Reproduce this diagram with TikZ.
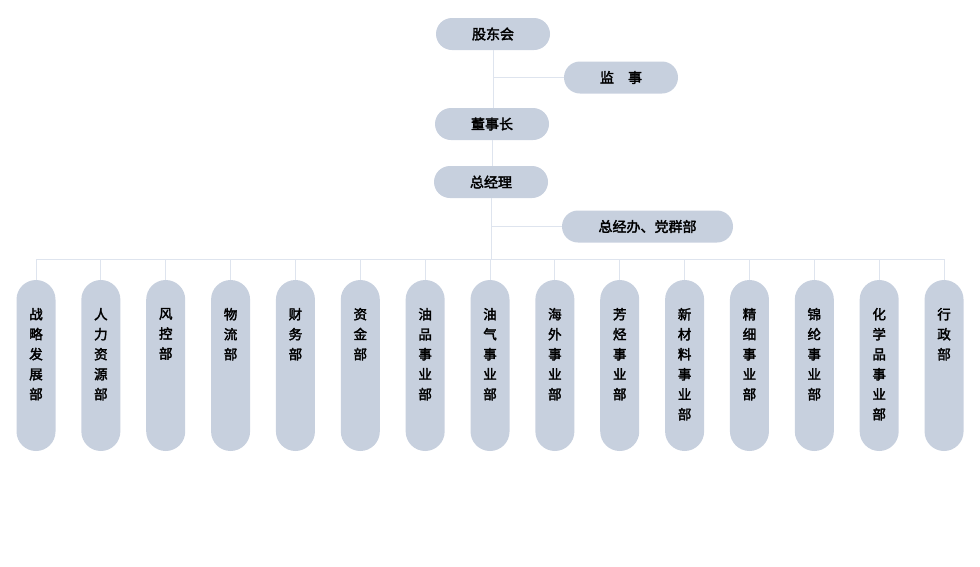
\documentclass[tikz,border=0pt]{standalone}
\usepackage{fontspec}
\setmainfont{Noto Sans CJK SC}[AutoFakeBold=2.5]
\usetikzlibrary{positioning}
\definecolor{boxgray}{RGB}{199,208,222}
\definecolor{linegray}{RGB}{222,228,238}

\tikzset{
  topbox/.style={fill=boxgray,rounded corners=16pt,minimum width=114pt,
    minimum height=32pt,font=\bfseries\fontsize{14}{16}\selectfont},
  deptbox/.style={fill=boxgray,rounded corners=19.5pt,minimum width=39pt,
    minimum height=171pt},
  depttext/.style={align=center,inner sep=0pt,anchor=north,
    font=\bfseries\fontsize{13.5}{20}\selectfont},
  link/.style={draw=linegray,line width=1pt}
}

\begin{document}
\begin{tikzpicture}[x=1pt,y=-1pt]
  \useasboundingbox (0,0) rectangle (980,566);

  % top of the chart
  \node[topbox] (gdh) at (493,34) {股东会};
  \node[topbox] (js) at (621,77.5) {监\quad 事};
  \node[topbox] (dsz) at (492,124) {董事长};
  \node[topbox] (zjl) at (491,182) {总经理};
  \node[topbox,minimum width=171pt] (zjb) at (647.5,226.5) {总经办、党群部};
  \coordinate (bus) at (491,259);

  \draw[link] (gdh.south) -- (gdh.south |- dsz.north);
  \draw[link] (gdh.south |- js.west) -- (js.west);
  \draw[link] (dsz.south) -- (dsz.south |- zjl.north);
  \draw[link] (zjl.south) -- (zjl.south |- bus);
  \draw[link] (zjl.south |- zjb.west) -- (zjb.west);

  % departments
  \foreach \i/\t in {1/{战\\略\\发\\展\\部}, 2/{人\\力\\资\\源\\部},
      3/{风\\控\\部}, 4/{物\\流\\部}, 5/{财\\务\\部}, 6/{资\\金\\部},
      7/{油\\品\\事\\业\\部}, 8/{油\\气\\事\\业\\部}, 9/{海\\外\\事\\业\\部},
      10/{芳\\烃\\事\\业\\部}, 11/{新\\材\\料\\事\\业\\部},
      12/{精\\细\\事\\业\\部}, 13/{锦\\纶\\事\\业\\部},
      14/{化\\学\\品\\事\\业\\部}, 15/{行\\政\\部}}{
    \node[deptbox] (d\i) at ({36+64.86*(\i-1)},365.5) {};
    \node[depttext] (t\i) at ([yshift=-28pt]d\i.north) {\t};
    \draw[link] (d\i.north) -- (d\i.north |- bus);
  }
  \draw[link] (d1.north |- bus) -- (d15.north |- bus);
\end{tikzpicture}
\end{document}
